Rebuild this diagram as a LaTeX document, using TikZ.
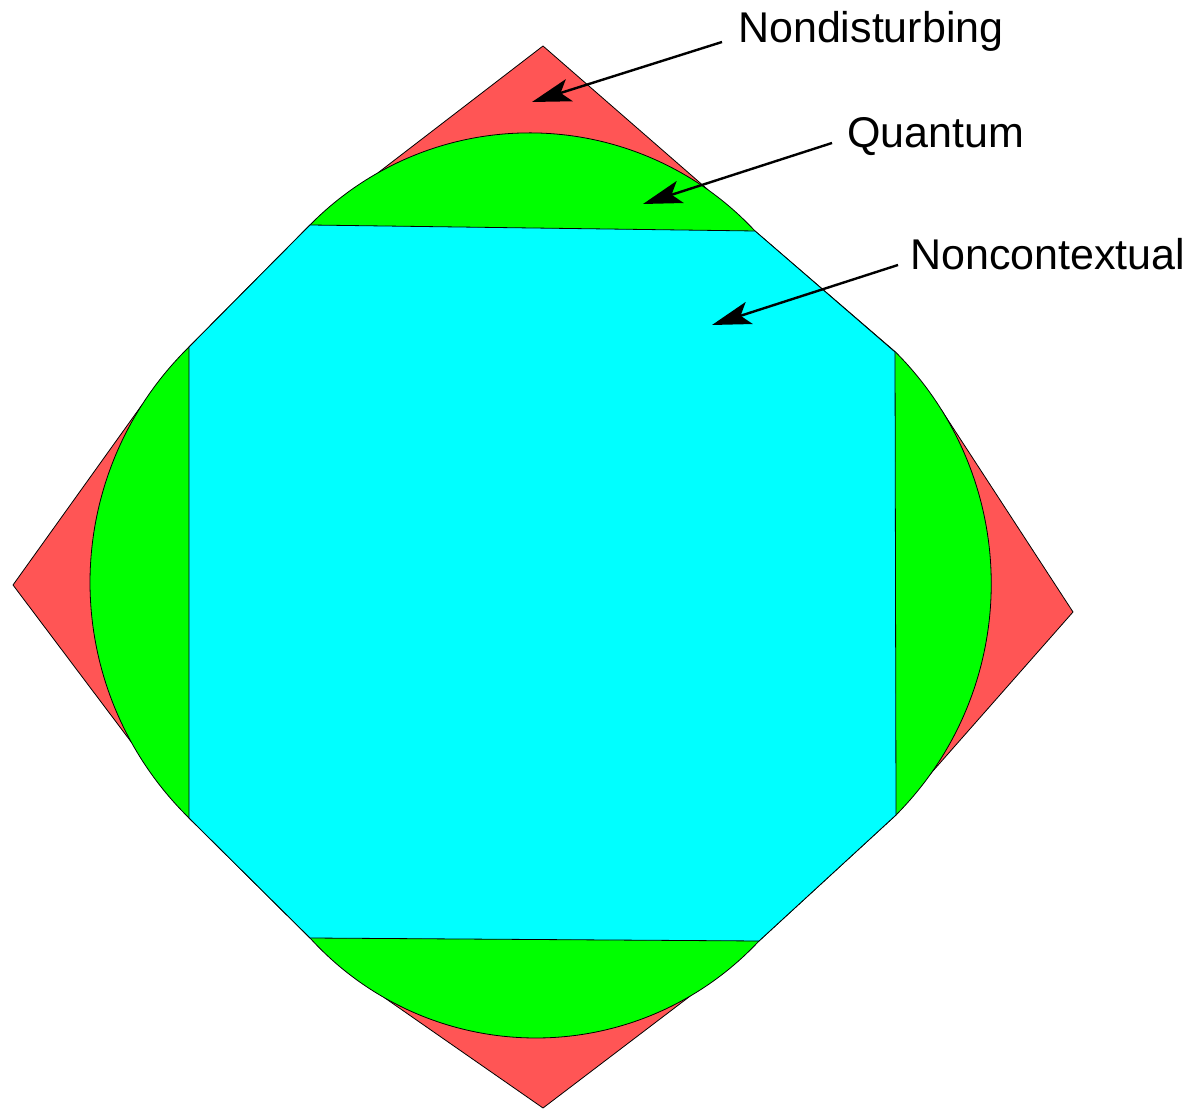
\documentclass[tikz,border=0pt]{standalone}
\usepackage{fontspec}
\setmainfont{Liberation Sans}
\usetikzlibrary{arrows.meta}
\definecolor{ndred}{RGB}{255,85,85}
\definecolor{qgreen}{RGB}{0,255,0}
\definecolor{nccyan}{RGB}{0,255,255}
\tikzset{
  region/.style={draw=black, line width=0.8pt, line join=round},
  arr/.style={draw=black, line width=2.4pt, -{Stealth[length=39pt,width=23pt,inset=9pt]}},
  lab/.style={anchor=base west, inner sep=0pt, font=\fontsize{43}{50}\selectfont}
}
\begin{document}
\begin{tikzpicture}[x=1pt,y=1pt]
\useasboundingbox (0,0) rectangle (1191,1109);
% nondisturbing set: four corner triangles (bases hidden under the quantum set)
\path[region, fill=ndred] (543,1063) -- (378,936.2) -- (708,919.2) -- cycle;
\path[region, fill=ndred] (13,524) -- (141.9,704) -- (131.2,367) -- cycle;
\path[region, fill=ndred] (1073,497) -- (941.4,699) -- (929.4,334) -- cycle;
\path[region, fill=ndred] (543,1) -- (385,110.9) -- (690,112.8) -- cycle;
% octagon vertices
\coordinate (A) at (310,884);
\coordinate (B) at (755,878);
\coordinate (C) at (895,757);
\coordinate (D) at (896,294);
\coordinate (E) at (759,168);
\coordinate (F) at (310,171);
\coordinate (G) at (189,291);
\coordinate (H) at (189,762);
% quantum set
\path[region, fill=qgreen]
  (B) arc[start angle=42.96, end angle=135.5, radius=308]
  -- (H) arc[start angle=134.4, end angle=225.6, radius=329.6]
  -- (F) arc[start angle=222.24, end angle=317.0, radius=305.1]
  -- (D) arc[start angle=-44.78, end angle=44.9, radius=328.3]
  -- cycle;
% noncontextual polytope
\path[region, fill=nccyan] (A) -- (B) -- (C) -- (D) -- (E) -- (F) -- (G) -- (H) -- cycle;
% labels
\node[lab] (nd) at (738,1066) {Nondisturbing};
\node[lab] (qu) at (847,961) {Quantum};
\node[lab] (nc) at (910,839) {Noncontextual};
\coordinate (ndS) at (722,1067);
\coordinate (ndT) at (532,1007);
\coordinate (quS) at (832,966);
\coordinate (quT) at (643,905);
\coordinate (ncS) at (898,844);
\coordinate (ncT) at (712,784);
\draw[arr] (ndS) -- (ndT);
\draw[arr] (quS) -- (quT);
\draw[arr] (ncS) -- (ncT);
\end{tikzpicture}
\end{document}
